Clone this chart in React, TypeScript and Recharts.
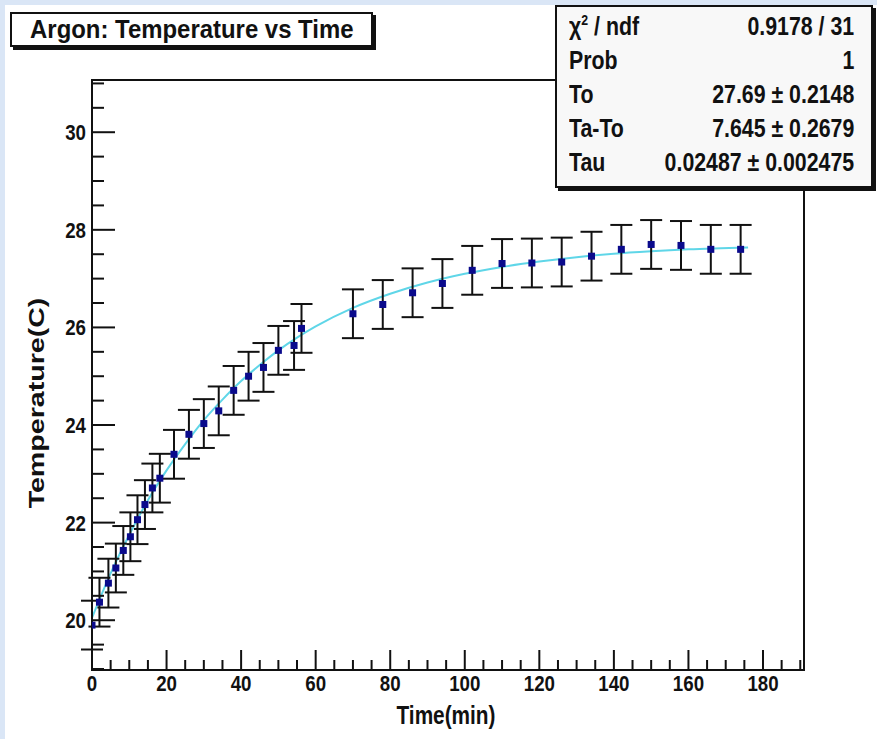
import { ComposedChart, Scatter, Line, XAxis, YAxis, ErrorBar, ReferenceArea } from "recharts";

// measured points (time in min, temperature in C, error)
const times = [0, 2, 4.4, 6.4, 8.4, 10.3, 12.2, 14.2, 16.2, 18.2, 22, 26, 30, 34, 38, 42, 46, 50, 54.2, 56.2,
  70, 78, 86, 94, 102, 110, 118, 126, 134, 142, 150, 158, 166, 174];
const temps = [19.9, 20.37, 20.76, 21.07, 21.43, 21.71, 22.06, 22.37, 22.71, 22.91, 23.4, 23.81, 24.03, 24.29, 24.71, 25.0, 25.18, 25.53, 25.63, 25.98,
  26.28, 26.47, 26.71, 26.9, 27.17, 27.31, 27.32, 27.34, 27.46, 27.6, 27.7, 27.68, 27.6, 27.6];
const errors = [0.5, 0.5, 0.5, 0.5, 0.5, 0.5, 0.5, 0.5, 0.5, 0.5, 0.5, 0.5, 0.5, 0.5, 0.5, 0.5, 0.5, 0.5, 0.5, 0.5,
  0.5, 0.5, 0.5, 0.5, 0.5, 0.5, 0.5, 0.5, 0.5, 0.5, 0.5, 0.5, 0.5, 0.5];

// fit curve
const fitTimes = [0, 5, 10, 15, 20, 25, 30, 35, 40, 45, 50, 55, 60, 70, 80, 90, 100, 110, 120, 130, 140, 150, 160, 176];
const fitTemps = [20.05, 20.96, 21.75, 22.46, 23.07, 23.61, 24.1, 24.52, 24.9, 25.23, 25.53, 25.79, 26.02, 26.4, 26.69, 26.92, 27.1, 27.24, 27.35, 27.44, 27.51, 27.56, 27.6, 27.64];

const xMajor = [0, 20, 40, 60, 80, 100, 120, 140, 160, 180];
const xTicks = [0, 5, 10, 15, 20, 25, 30, 35, 40, 45, 50, 55, 60, 65, 70, 75, 80, 85, 90, 95, 100, 105, 110, 115, 120, 125, 130, 135, 140, 145, 150, 155, 160, 165, 170, 175, 180, 185, 190];
const yMajor = [20, 22, 24, 26, 28, 30];
const yTicks = [19, 19.5, 20, 20.5, 21, 21.5, 22, 22.5, 23, 23.5, 24, 24.5, 25, 25.5, 26, 26.5, 27, 27.5, 28, 28.5, 29, 29.5, 30, 30.5, 31];

const stats = [
  ["chi", "0.9178 / 31"],
  ["Prob", "1"],
  ["To", "27.69 \u00b1 0.2148"],
  ["Ta-To", "7.645 \u00b1 0.2679"],
  ["Tau", "0.02487 \u00b1 0.002475"],
];

const X_DOMAIN = [0, 191];
const Y_DOMAIN = [18.98, 31.07];
const FONT = "'Liberation Sans', Arial, Helvetica, sans-serif";

const points = times.map((t, i) => ({ t, v: temps[i], err: errors[i] }));
const fit = fitTimes.map((t, i) => ({ t, v: fitTemps[i] }));

const YTick = (props: any) => {
  const { x, y, payload } = props;
  const major = yMajor.includes(payload.value);
  return (
    <g>
      <line x1={x} x2={x + (major ? 23 : 12)} y1={y} y2={y} stroke="#111" strokeWidth={2} />
      {major && (
        <text x={0} y={0} transform={`translate(${x - 6},${y + 8}) scale(0.85,1)`} textAnchor="end"
          fontFamily={FONT} fontWeight="bold" fontSize={22} fill="#111">
          {payload.value}
        </text>
      )}
    </g>
  );
};

const XTick = (props: any) => {
  const { x, y, payload } = props;
  const major = xMajor.includes(payload.value);
  return (
    <g>
      <line x1={x} x2={x} y1={y} y2={y - (major ? 20 : 10)} stroke="#111" strokeWidth={2} />
      {major && (
        <text x={0} y={0} transform={`translate(${x},${y + 21}) scale(0.85,1)`} textAnchor="middle"
          fontFamily={FONT} fontWeight="bold" fontSize={22} fill="#111">
          {payload.value}
        </text>
      )}
    </g>
  );
};

const Marker = (props: any) => {
  const { cx, cy } = props;
  if (cx == null || cy == null) return null;
  return <rect x={cx - 3.5} y={cy - 3.5} width={7} height={7} fill="#0a0a8c" />;
};

const squeeze = (origin: string, k = 0.82) => ({ display: "inline-block", transform: `scaleX(${k})`, transformOrigin: origin });

export default function App() {
  return (
    <div style={{ position: "absolute", left: 0, top: 0, width: 877, height: 739, background: "#dae6f6", overflow: "hidden" }}>
      <div style={{ position: "absolute", left: 5, top: 5, right: 0, bottom: 0, background: "#fff" }} />
      <div style={{ position: "absolute", left: 0, top: 0 }}>
        <ComposedChart width={877} height={739} margin={{ top: 80, right: 73, bottom: 39, left: 32 }}>
          <XAxis dataKey="t" type="number" domain={X_DOMAIN} ticks={xTicks} interval={0} allowDataOverflow
            axisLine={false} tickLine={false} tickSize={0} tickMargin={0} height={30} tick={<XTick />} />
          <YAxis type="number" domain={Y_DOMAIN} ticks={yTicks} interval={0} allowDataOverflow
            axisLine={false} tickLine={false} tickSize={0} tickMargin={0} width={60} tick={<YTick />} />
          <ReferenceArea x1={X_DOMAIN[0]} x2={X_DOMAIN[1]} y1={Y_DOMAIN[0]} y2={Y_DOMAIN[1]} fill="none" stroke="#111" strokeWidth={2} fillOpacity={0} strokeOpacity={1} />
          <Line data={fit} dataKey="v" type="monotone" stroke="#5fd6e8" strokeWidth={2} dot={false} activeDot={false} isAnimationActive={false} />
          <Scatter data={points} dataKey="v" shape={<Marker />} isAnimationActive={false}>
            <ErrorBar dataKey="err" direction="y" width={11} stroke="#111" strokeWidth={2} />
          </Scatter>
        </ComposedChart>
      </div>
      <svg width={877} height={739} style={{ position: "absolute", left: 0, top: 0, pointerEvents: "none" }}>
        <text x={0} y={0} transform="translate(446,724) scale(0.8,1)" textAnchor="middle"
          fontFamily={FONT} fontWeight="bold" fontSize={26} fill="#111">Time(min)</text>
        <text x={0} y={0} transform="translate(44,403) rotate(-90) scale(1.1,0.85)" textAnchor="middle"
          fontFamily={FONT} fontWeight="bold" fontSize={26} fill="#111">Temperature(C)</text>
      </svg>
      <div style={{ position: "absolute", left: 10, top: 12, width: 359, height: 31, border: "2px solid #111", background: "#fff",
        boxShadow: "3px 3px 0 #111", fontFamily: FONT, fontWeight: "bold", fontSize: 26, color: "#111", lineHeight: "31px", textAlign: "center" }}>
        <span style={squeeze("center", 0.92)}>Argon: Temperature vs Time</span>
      </div>
      <div style={{ position: "absolute", left: 555, top: 5, width: 314, height: 175, border: "2px solid #111", background: "#f8f8f8",
        boxShadow: "3px 3px 0 #111", fontFamily: FONT, fontWeight: "bold", fontSize: 26, color: "#111", padding: "2px 0" }}>
        {stats.map(([k, v]) => (
          <div key={k} style={{ display: "flex", justifyContent: "space-between", height: 34, lineHeight: "34px", padding: "0 17px 0 12px" }}>
            <span style={squeeze("left")}>
              {k === "chi" ? (<>{"\u03c7"}<sup style={{ fontSize: 15, verticalAlign: "10px", lineHeight: 0 }}>2</sup> / ndf</>) : k}
            </span>
            <span style={squeeze("right")}>{v}</span>
          </div>
        ))}
      </div>
    </div>
  );
}
